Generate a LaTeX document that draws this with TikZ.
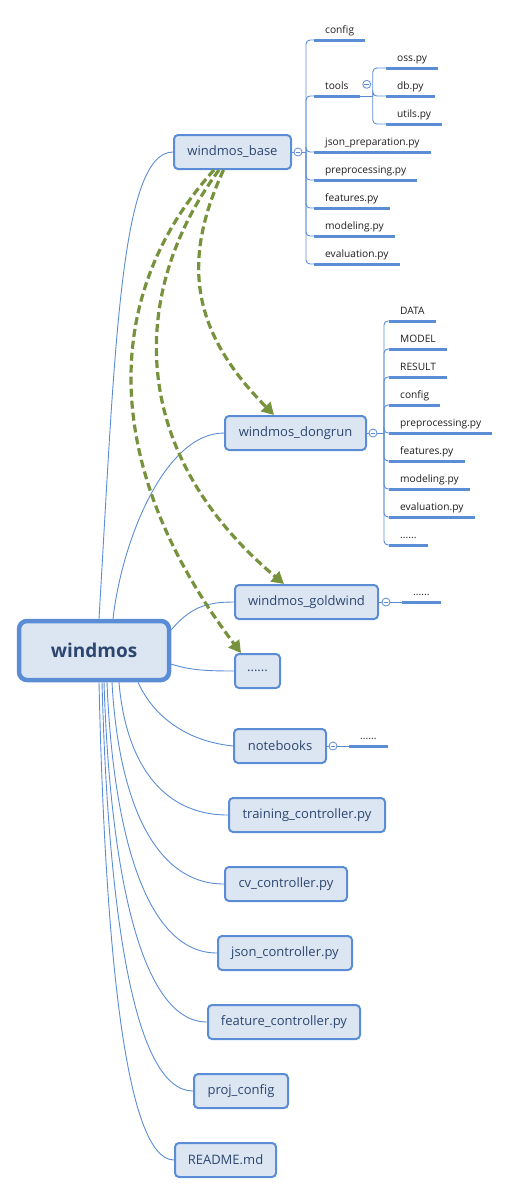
\documentclass[tikz,border=0pt]{standalone}
\usepackage{fontspec}
\setmainfont{Open Sans}
\usepackage{xcolor}
\definecolor{cLine}{HTML}{5B8DD6}
\definecolor{cFill}{HTML}{DCE6F2}
\definecolor{cText}{HTML}{2D4670}
\definecolor{cLeaf}{HTML}{1E1E1E}
\definecolor{cRef}{HTML}{76923C}
\usepackage{tikz}
\usetikzlibrary{positioning,arrows.meta,calc}
\newcommand{\moredots}{......}
\tikzset{
  node-root/.style={draw=cLine,line width=4.5pt,fill=cFill,rounded corners=8pt,
    minimum width=150pt,minimum height=59pt,text=cText,
    font=\fontsize{19}{22}\selectfont\bfseries},
  node-box/.style={draw=cLine,line width=2pt,fill=cFill,rounded corners=4pt,
    minimum height=34pt,inner xsep=6pt,anchor=west,text=cText,
    font=\fontsize{13}{15}\selectfont},
  leaf-line/.style={draw=cLine,line width=3pt},
  node-leaf/.style={anchor=south west,inner xsep=11pt,inner ysep=3.5pt,
    text height=7.5pt,text depth=2.5pt,text=cLeaf,font=\fontsize{10.2}{12}\selectfont,
    append after command={(\tikzlastnode.south west) edge[leaf-line] (\tikzlastnode.south east)}},
  node-fold/.style={circle,draw=cLine,fill=white,line width=0.8pt,minimum size=8pt,inner sep=0pt,
    path picture={\draw[cLine,line width=0.8pt]
      ([xshift=-2.3pt]path picture bounding box.center) -- ([xshift=2.3pt]path picture bounding box.center);}},
  link/.style={draw=cLine,line width=0.9pt},
  link-leaf/.style={draw=cLine,line width=0.9pt,rounded corners=4pt},
  arrow-ref/.style={draw=cRef,line width=3.2pt,dash pattern=on 8pt off 4pt,
    -{Triangle[length=12pt,width=13pt]}},
}

\begin{document}
\begin{tikzpicture}[x=1pt,y=-1pt]
  \useasboundingbox (0,0) rectangle (511,1195);
  % central topic and main topics
  \node[node-root] (root) at (94,650.5) {windmos};
  \node[node-box,minimum width=117pt] (base) at (173,152) {windmos\_base};
  \node[node-box,minimum width=141pt] (dongrun) at (224,433) {windmos\_dongrun};
  \node[node-box,minimum width=143pt] (goldwind) at (234,602) {windmos\_goldwind};
  \node[node-box,minimum width=45pt] (etc) at (234,671) {\moredots};
  \node[node-box,minimum width=92pt] (notebooks) at (233,746) {notebooks};
  \node[node-box,minimum width=156pt] (training) at (228,815) {training\_controller.py};
  \node[node-box,minimum width=122pt] (cv) at (224,884) {cv\_controller.py};
  \node[node-box,minimum width=134pt] (json) at (217,953) {json\_controller.py};
  \node[node-box,minimum width=152pt] (feature) at (207,1022) {feature\_controller.py};
  \node[node-box,minimum width=94pt] (proj) at (193,1091) {proj\_config};
  \node[node-box,minimum width=101pt] (readme) at (174,1160) {README.md};

  \draw[link] ([xshift=5pt]root.north) .. controls (115,350) and (120,152) .. (base.west);
  \draw[link] ([xshift=19pt]root.north) .. controls (122,540) and (165,433) .. (dongrun.west);
  \draw[link] (root.15) .. controls (190,608) and (205,602) .. (goldwind.west);
  \draw[link] (root.-10) .. controls (190,670) and (205,671) .. (etc.west);
  \draw[link] ([xshift=44pt]root.south) .. controls (148,705) and (175,740) .. (notebooks.west);
  \draw[link] ([xshift=25pt]root.south) .. controls (125,755) and (157,815) .. (training.west);
  \draw[link] ([xshift=18pt]root.south) .. controls (118,793) and (151,884) .. (cv.west);
  \draw[link] ([xshift=13pt]root.south) .. controls (113,831) and (145,953) .. (json.west);
  \draw[link] ([xshift=10pt]root.south) .. controls (110,869) and (140,1022) .. (feature.west);
  \draw[link] ([xshift=8pt]root.south) .. controls (108,907) and (133,1091) .. (proj.west);
  \draw[link] ([xshift=5pt]root.south) .. controls (105,945) and (125,1160) .. (readme.west);

  % windmos_base
  \node[node-fold] (fbase) at ([xshift=6pt]base.east) {};
  \coordinate (hbase) at ([xshift=14pt]base.east);
  \draw[link] (base.east) -- (fbase.west) (fbase.east) -- (hbase);
  \foreach \nm/\txt/\y in {bcfg/config/40,btools/tools/96,bjson/json\_preparation.py/152,
      bpre/preprocessing.py/180,bfeat/features.py/208,bmod/modeling.py/236,
      beval/evaluation.py/264}{
    \node[node-leaf] (\nm) at (314,\y) {\txt};
    \draw[link-leaf] (hbase) |- (\nm.south west);
  }
  \node[node-fold] (ftools) at ([xshift=7pt,yshift=3pt]btools.east) {};
  \coordinate (htools) at ([xshift=13pt]btools.south east);
  \draw[link] (btools.south east) -- (htools);
  \foreach \nm/\txt/\y in {toss/oss.py/68,tdb/db.py/96,tutils/utils.py/124}{
    \node[node-leaf] (\nm) at (386,\y) {\txt};
    \draw[link-leaf] (htools) |- (\nm.south west);
  }

  % windmos_dongrun
  \node[node-fold] (fdongrun) at ([xshift=6pt]dongrun.east) {};
  \coordinate (hdongrun) at ([xshift=17pt]dongrun.east);
  \draw[link] (dongrun.east) -- (fdongrun.west) (fdongrun.east) -- (hdongrun);
  \foreach \nm/\txt/\y in {ddata/DATA/321,dmodel/MODEL/349,dresult/RESULT/377,
      dcfg/config/405,dpre/preprocessing.py/433,dfeat/features.py/461,
      dmod/modeling.py/489,deval/evaluation.py/517,dmore/\moredots/545}{
    \node[node-leaf] (\nm) at (389,\y) {\txt};
    \draw[link-leaf] (hdongrun) |- (\nm.south west);
  }

  % windmos_goldwind, notebooks
  \node[node-fold] (fgoldwind) at ([xshift=7pt]goldwind.east) {};
  \node[node-leaf] (gmore) at (402,602) {\moredots};
  \draw[link] (goldwind.east) -- (fgoldwind.west) (fgoldwind.east) -- (gmore.south west);
  \node[node-fold] (fnotebooks) at ([xshift=6pt]notebooks.east) {};
  \node[node-leaf] (nmore) at (349,746) {\moredots};
  \draw[link] (notebooks.east) -- (fnotebooks.west) (fnotebooks.east) -- (nmore.south west);

  % references from windmos_base
  \draw[arrow-ref] ([xshift=-9pt]base.south) .. controls (182,260) and (190,330) .. ([xshift=-21.5pt]dongrun.north);
  \draw[arrow-ref] ([xshift=-13.5pt]base.south) .. controls (130,290) and (125,450) .. ([xshift=-22.5pt]goldwind.north);
  \draw[arrow-ref] ([xshift=-18.5pt]base.south) .. controls (105,290) and (95,460) .. ([xshift=-16.5pt]etc.north);
\end{tikzpicture}
\end{document}
